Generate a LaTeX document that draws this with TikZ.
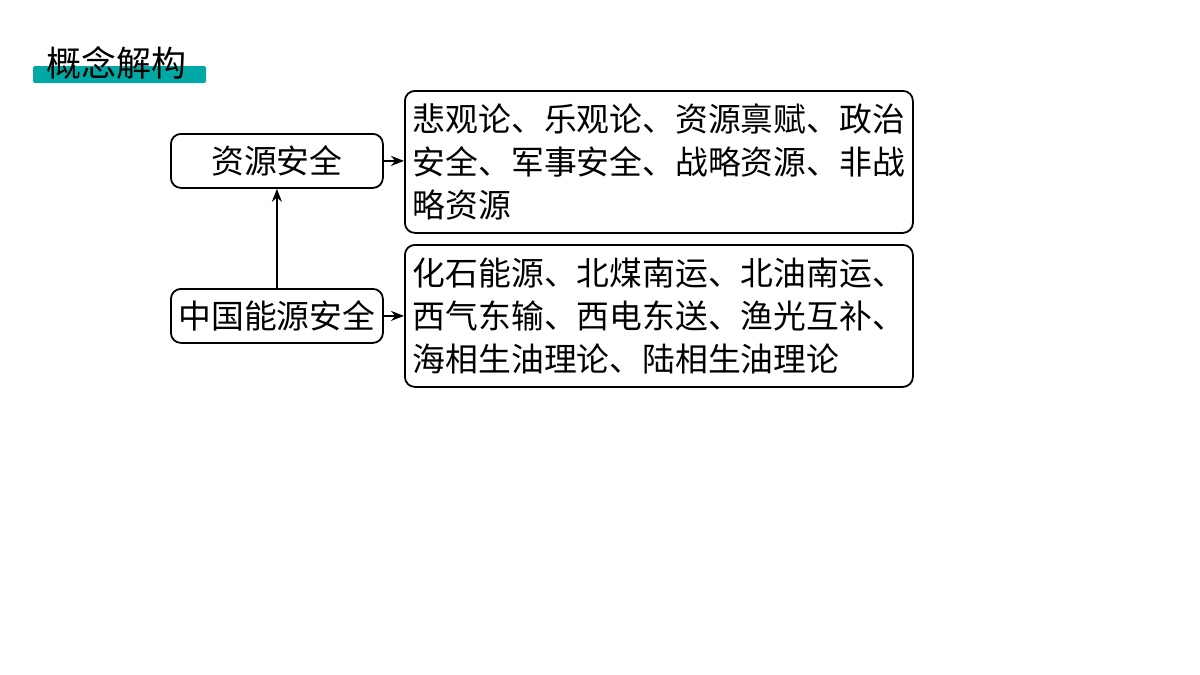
\documentclass[tikz,border=0pt]{standalone}
\usepackage{fontspec}
\newfontfamily\cjk{Noto Sans CJK SC}
\usetikzlibrary{arrows.meta}
\definecolor{teal1}{HTML}{00A9A5}
\tikzset{
  box/.style={draw=black, line width=1.8pt, rounded corners=10pt, font=\cjk\fontsize{32.8}{43}\selectfont},
  bigbox/.style={box, minimum width=508pt, minimum height=142pt, text width=492pt, inner xsep=8pt, align=left, anchor=north west},
  smallbox/.style={box, minimum width=212pt, minimum height=54pt, inner sep=0pt, anchor=north west},
  arr/.style={-{Stealth[length=13pt,width=10pt]}, line width=1.8pt}
}
\begin{document}
\begin{tikzpicture}[x=1pt,y=-1pt]
\useasboundingbox (0,0) rectangle (1200,675);
\fill[white] (0,0) rectangle (1200,675);
% title
\fill[teal1, rounded corners=2pt] (33,66) rectangle (206,83);
\node[anchor=west, inner sep=0pt, font=\cjk\fontsize{35}{35}\selectfont] (title) at (46,63) {概念解构};
% boxes
\node[smallbox] (rs) at (170,133) {资源安全};
\node[smallbox] (ne) at (170,288) {中国能源安全};
\node[bigbox] (d1) at (404,90) {悲观论、乐观论、资源禀赋、政治\\安全、军事安全、战略资源、非战\\略资源};
\node[bigbox] (d2) at (404,244) {化石能源、北煤南运、北油南运、\\西气东输、西电东送、渔光互补、\\海相生油理论、陆相生油理论};
% connectors
\draw[arr] (ne.north) -- (rs.south);
\draw[arr] (rs.east) -- (d1.west |- rs.east);
\draw[arr] (ne.east) -- (d2.west |- ne.east);
\end{tikzpicture}
\end{document}
